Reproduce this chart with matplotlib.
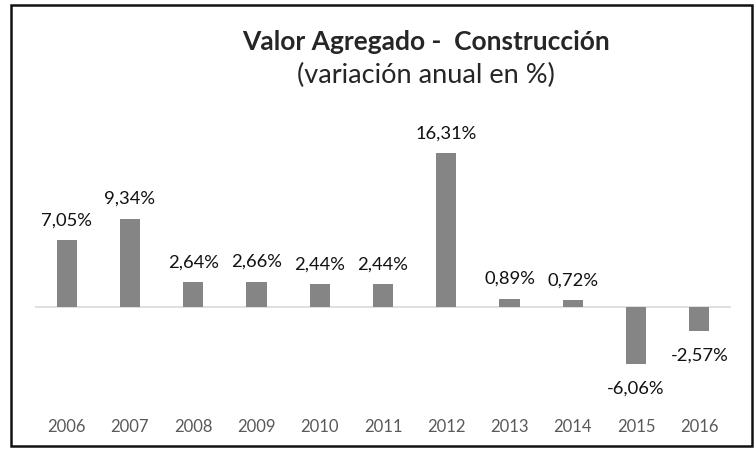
import matplotlib
matplotlib.use('Agg')
import matplotlib.pyplot as plt
from matplotlib.patches import Rectangle

years = ['2006', '2007', '2008', '2009', '2010', '2011',
         '2012', '2013', '2014', '2015', '2016']
values = [7.05, 9.34, 2.64, 2.66, 2.44, 2.44, 16.31, 0.89, 0.72, -6.06, -2.57]
labels = ['7,05%', '9,34%', '2,64%', '2,66%', '2,44%', '2,44%',
          '16,31%', '0,89%', '0,72%', '-6,06%', '-2,57%']

plt.rcParams['font.family'] = ['Lato', 'DejaVu Sans']

W, H = 756, 449
fig = plt.figure(figsize=(W / 100, H / 100), dpi=100)

# plot area: x from 35 to 731 px, y limits chosen so zero sits at ~307 px
ymin, ymax = -10.0, 18.0
ppu = 9.44
top_px = 307 - ymax * ppu
bot_px = 307 - ymin * ppu
ax = fig.add_axes([35 / W, 1 - bot_px / H, (731 - 35) / W, (bot_px - top_px) / H])

x = list(range(len(years)))
ax.bar(x, values, width=0.32, color='#858585', zorder=2)
ax.axhline(0, color='#d9d9d9', lw=1.2, zorder=1)

for xi, v, lab in zip(x, values, labels):
    off = 2.1 if v >= 0 else -2.6
    ax.text(xi, v + off, lab, ha='center', va='center', fontsize=13.2, color='#111111')

ax.set_xlim(-0.5, 10.5)
ax.set_ylim(ymin, ymax)
ax.set_xticks(x)
ax.set_xticklabels(years, fontsize=12, color='#595959')
ax.tick_params(axis='x', length=0, pad=13)
ax.set_yticks([])
for s in ax.spines.values():
    s.set_visible(False)

fig.text(426 / W, 1 - 42 / H, 'Valor Agregado -  Construcción', ha='center', va='center',
         fontsize=19, fontweight='bold', color='#262626')
fig.text(426 / W, 1 - 75 / H, '(variación anual en %)', ha='center', va='center',
         fontsize=19.5, color='#262626')

# outer border
fig.patches.append(Rectangle((11 / W, 1 - 446 / H), (752 - 11) / W, (446 - 5) / H,
                             transform=fig.transFigure, fill=False, edgecolor='#111111', lw=1.8))

fig.savefig('out.png', dpi=100)
